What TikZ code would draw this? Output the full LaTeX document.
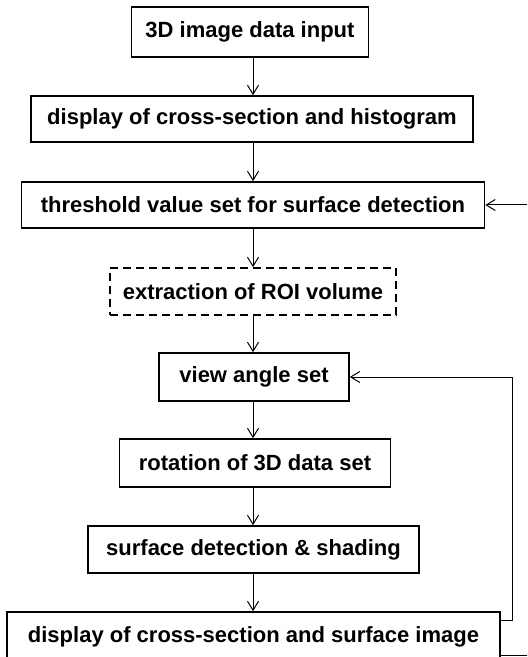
\documentclass[tikz,border=0pt]{standalone}
\usepackage{fontspec}
\setmainfont{Liberation Sans}
\usepackage{tikz}
\usetikzlibrary{arrows.meta,calc}

\begin{document}
\begin{tikzpicture}[x=0.5pt,y=-0.5pt,font=\bfseries\fontsize{11}{13}\selectfont,
  box/.style={draw,line width=0.8pt,align=center,inner sep=2pt,fill=white},
  dbox/.style={box,dash pattern=on 4pt off 2.5pt},
  arr/.style={-{Straight Barb[length=4.5pt,width=5.5pt]},line width=0.5pt}]
\useasboundingbox (0,0) rectangle (527,657);
\clip (0,0) rectangle (527,657);
\node[box,minimum width=118.5pt,minimum height=25pt] (input) at (250,32) {3D image data input};
\node[box,minimum width=221pt,minimum height=23pt] (hist) at (252,119) {display of cross-section and histogram};
\node[box,minimum width=231.5pt,minimum height=23pt] (thresh) at (253,205) {threshold value set for surface detection};
\node[dbox,minimum width=143pt,minimum height=23.5pt] (roi) at (253,291.5) {extraction of ROI volume};
\node[box,minimum width=95pt,minimum height=24pt] (view) at (254,377) {view angle set};
\node[box,minimum width=135.5pt,minimum height=24pt] (rot) at (255,463) {rotation of 3D data set};
\node[box,minimum width=165.5pt,minimum height=23.5pt] (shade) at (253.5,549.5) {surface detection \& shading};
\node[box,minimum width=246.5pt,minimum height=25pt] (surf) at (253.5,637) {display of cross-section and surface image};
\coordinate (fbview) at (512,620);
\coordinate (fbthr) at (545,655);
\draw[arr] (input.south-|253,0) -- (hist.north-|253,0);
\draw[arr] (hist.south-|253,0) -- (thresh.north-|253,0);
\draw[arr] (thresh.south-|253,0) -- (roi.north-|253,0);
\draw[arr] (roi.south-|253,0) -- (view.north-|253,0);
\draw[arr] (view.south-|253,0) -- (rot.north-|253,0);
\draw[arr] (rot.south-|253,0) -- (shade.north-|253,0);
\draw[arr] (shade.south-|253,0) -- (surf.north-|253,0);
\draw[arr] (surf.east|-fbview) -- (fbview) |- (view.east);
\draw[arr] (surf.east|-fbthr) -- (fbthr) |- (thresh.east);
\end{tikzpicture}
\end{document}
